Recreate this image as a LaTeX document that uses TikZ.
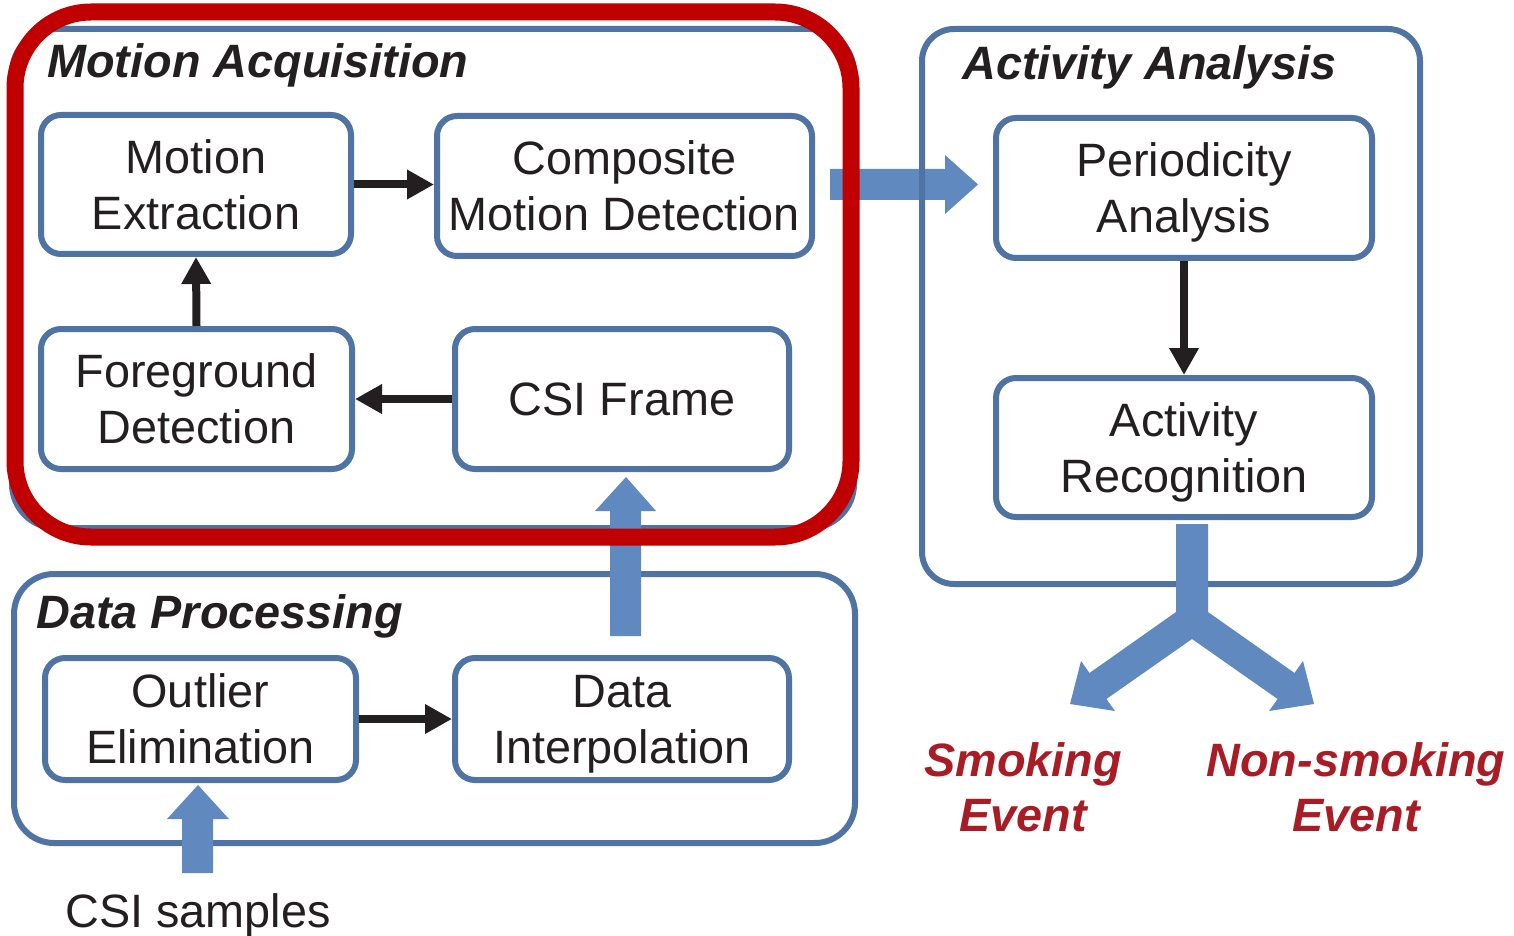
\documentclass[tikz,border=0pt]{standalone}
\usepackage{fontspec}
\setmainfont{Liberation Sans}
\usetikzlibrary{arrows.meta}
\definecolor{frameblue}{RGB}{79,115,163}
\definecolor{arrowblue}{RGB}{96,137,192}
\definecolor{hilite}{RGB}{192,0,0}
\definecolor{eventred}{RGB}{168,28,38}
\definecolor{ink}{RGB}{35,31,32}
\begin{document}
\begin{tikzpicture}[x=0.5pt,y=-0.5pt,
  txt/.style={font=\fontsize{23.4}{28}\selectfont, text=ink},
  stage/.style={draw=frameblue, line width=3pt, rounded corners=10pt,
    align=center, inner sep=0pt, text depth=0pt, txt},
  group/.style={draw=frameblue, line width=3pt},
  heading/.style={font=\fontsize{23.4}{28}\selectfont\bfseries\itshape,
    text=ink, anchor=base west, inner sep=0pt},
  flow/.style={draw=ink, line width=4pt, -{Triangle[length=13.5pt,width=14pt]}},
  bigarrow/.style={fill=arrowblue},
  event/.style={font=\fontsize{23.4}{27.5}\selectfont\bfseries\itshape,
    text=eventred, align=center, inner sep=0pt, text depth=0pt}
]
\useasboundingbox (0,0) rectangle (1514,936);

% group frames
\draw[group, rounded corners=22pt] (12,29) rectangle (854,528);
\draw[group, rounded corners=20pt] (14,574) rectangle (855,843);

% wide arrow into the analysis stage
\fill[bigarrow] (830,169) -- (945,169) -- (945,155) -- (978,184.5)
  -- (945,214) -- (945,200) -- (830,200) -- cycle;

\draw[group, rounded corners=16pt] (922,29) rectangle (1420,584);

% wide arrows
\fill[bigarrow] (610,636) -- (610,511) -- (595,511) -- (626,477)
  -- (656,511) -- (641,511) -- (641,636) -- cycle;
\fill[bigarrow] (182,873) -- (182,819) -- (167,819) -- (198,785)
  -- (229,819) -- (213,819) -- (213,873) -- cycle;
% forked output arrow
\fill[bigarrow] (1176,524) -- (1176,612) -- (1089.5,673) -- (1081,661)
  -- (1070,704) -- (1115,711) -- (1106.4,699) -- (1192,639)
  -- (1277.6,699) -- (1269,711) -- (1314,704) -- (1303,661)
  -- (1294.5,673) -- (1208,612) -- (1208,524) -- cycle;

% stages
\node[stage, minimum width=155pt, minimum height=69.5pt] (me) at (196,184.5) {Motion\\Extraction};
\node[stage, minimum width=187.5pt, minimum height=70pt] (cmd) at (624.5,186) {Composite\\Motion Detection};
\node[stage, minimum width=155.5pt, minimum height=70pt] (fd) at (196.5,399) {Foreground\\Detection};
\node[stage, minimum width=167pt, minimum height=70pt] (csi) at (622,399) {CSI Frame};
\node[stage, minimum width=188pt, minimum height=70pt] (pa) at (1184,188) {Periodicity\\Analysis};
\node[stage, minimum width=188pt, minimum height=69.5pt] (ar) at (1184,447.5) {Activity\\Recognition};
\node[stage, minimum width=155.5pt, minimum height=61pt] (oe) at (200.5,719) {Outlier\\Elimination};
\node[stage, minimum width=167pt, minimum height=61pt] (di) at (622,719) {Data\\Interpolation};

% connectors
\draw[flow] (me.east) -- (me.east -| cmd.west);
\draw[flow] (fd.north) -- (me.south);
\draw[flow] (csi.west) -- (csi.west -| fd.east);
\draw[flow] (pa.south) -- (ar.north);
\draw[flow] (oe.east) -- (oe.east -| di.west);

% headings and labels
\node[heading] (tma) at (47,78) {Motion Acquisition};
\node[heading] (taa) at (962,80) {Activity Analysis};
\node[heading] (tdp) at (36,628) {Data Processing};
\node[txt, anchor=base, inner sep=0pt] (samples) at (198,927) {CSI samples};
\node[event] (smoke) at (1023,787) {Smoking\\Event};
\node[event] (nonsmoke) at (1356,787) {Non-smoking\\Event};

% highlight frame
\draw[hilite, line width=8.5pt, rounded corners=38pt] (15,12) rectangle (851,537);
\end{tikzpicture}
\end{document}
